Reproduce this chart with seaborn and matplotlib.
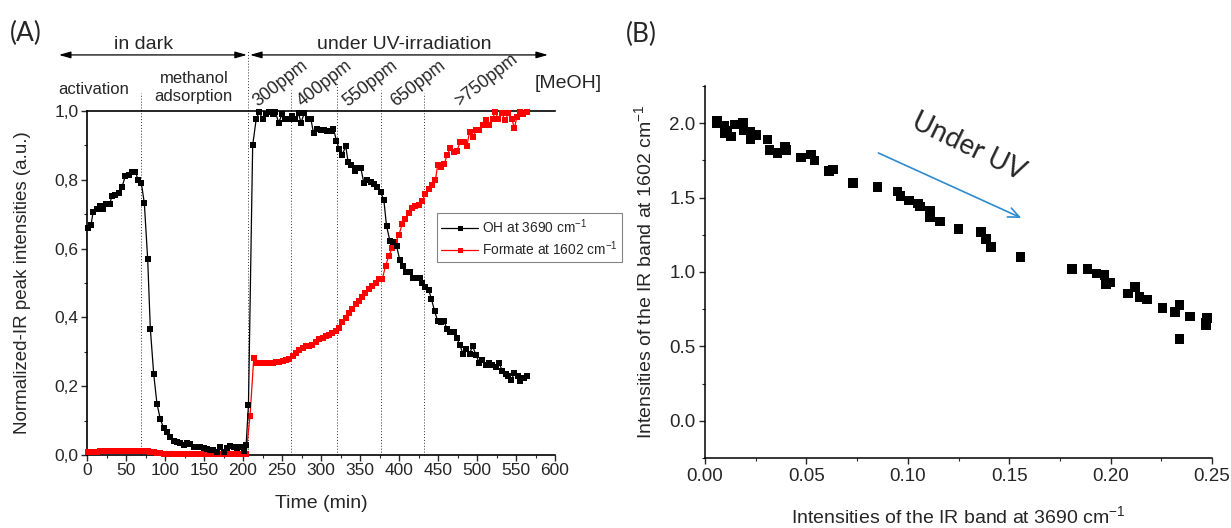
import numpy as np
import pandas as pd
import matplotlib
matplotlib.use("Agg")
import matplotlib.pyplot as plt
from matplotlib.ticker import MultipleLocator, FuncFormatter, FormatStrFormatter
from matplotlib.lines import Line2D
import seaborn as sns

# ---------------- data: panel A (time series) ----------------
t_oh = [0.9, 5.1, 7.7, 12.8, 16.2, 20.5, 24.8, 29.0, 32.0, 36.3, 40.6, 45.0, 49.0, 53.4,
        57.7, 62.0, 65.4, 69.7, 73.5, 77.8, 81.2, 85.5, 89.7, 94.0, 98.3, 102.6, 106.8,
        111.0, 115.4, 119.7, 124.0, 128.0, 132.5, 137.0, 141.0, 145.0, 149.6, 153.8, 158.0,
        162.0, 166.7, 171.0, 175.0, 179.5, 183.8, 188.0, 192.3, 196.6, 200.8, 204.0, 207.0,
        212.4, 217.0, 221.0, 225.0, 229.4, 233.8, 238.0, 241.5, 245.7, 250.0, 254.0, 258.5,
        262.8, 267.0, 271.3, 274.3, 278.5, 282.8, 287.0, 290.4, 295.5, 299.8, 304.0, 308.3,
        312.6, 316.0, 319.8, 323.2, 327.4, 331.7, 334.7, 339.0, 343.2, 346.6, 351.0, 355.0,
        359.4, 363.6, 367.9, 371.3, 376.4, 380.6, 384.0, 388.3, 392.5, 396.8, 401.0, 405.3,
        409.6, 413.8, 418.0, 422.3, 426.6, 429.6, 433.8, 438.0, 441.5, 445.7, 449.6, 453.8,
        458.0, 461.5, 465.7, 470.0, 474.3, 477.7, 482.0, 486.0, 490.5, 494.3, 498.5, 502.8,
        507.0, 511.3, 515.5, 519.8, 524.0, 528.3, 532.6, 536.8, 540.0, 543.6, 547.9, 552.0,
        555.5, 559.8, 563.6]
oh = [0.661, 0.668, 0.705, 0.715, 0.723, 0.715, 0.730, 0.730, 0.752, 0.757, 0.762, 0.780,
      0.810, 0.814, 0.824, 0.824, 0.800, 0.790, 0.732, 0.569, 0.367, 0.236, 0.149, 0.104,
      0.078, 0.066, 0.052, 0.042, 0.039, 0.034, 0.029, 0.034, 0.032, 0.024, 0.024, 0.022,
      0.019, 0.017, 0.015, 0.015, 0.010, 0.024, 0.010, 0.019, 0.026, 0.024, 0.019, 0.024,
      0.013, 0.029, 0.146, 0.900, 0.978, 0.997, 0.976, 0.990, 0.997, 0.990, 0.997, 0.966,
      0.990, 0.977, 0.977, 0.985, 0.976, 0.993, 0.966, 0.993, 0.977, 0.977, 0.936, 0.948,
      0.944, 0.944, 0.941, 0.941, 0.948, 0.914, 0.890, 0.873, 0.898, 0.853, 0.843, 0.827,
      0.835, 0.835, 0.790, 0.800, 0.793, 0.788, 0.778, 0.764, 0.741, 0.666, 0.623, 0.620,
      0.608, 0.567, 0.550, 0.532, 0.532, 0.515, 0.515, 0.515, 0.500, 0.489, 0.481, 0.454,
      0.418, 0.389, 0.386, 0.389, 0.365, 0.358, 0.358, 0.340, 0.321, 0.295, 0.309, 0.295,
      0.316, 0.292, 0.268, 0.276, 0.261, 0.268, 0.261, 0.256, 0.268, 0.243, 0.236, 0.229,
      0.217, 0.238, 0.231, 0.214, 0.224, 0.231]

t_formate = [0.9, 5.1, 7.7, 12.8, 16.2, 20.5, 24.8, 29.0, 32.0, 36.3, 40.6, 45.0, 49.0,
             53.4, 57.7, 62.0, 65.4, 69.7, 73.5, 77.8, 81.2, 85.5, 89.7, 94.0, 98.3, 102.6,
             106.8, 111.0, 115.4, 119.7, 124.0, 128.0, 132.5, 137.0, 141.0, 145.0, 149.6,
             153.8, 158.0, 162.0, 166.7, 171.0, 175.0, 179.5, 183.8, 188.0, 192.3, 196.6,
             200.8, 204.0, 209.0, 213.8, 216.8, 221.0, 225.3, 229.6, 233.8, 238.0, 242.3,
             246.6, 250.9, 255.0, 259.4, 263.6, 268.0, 272.0, 276.4, 280.6, 285.0, 289.0,
             293.4, 297.7, 302.0, 306.0, 310.4, 314.7, 319.0, 323.0, 327.4, 331.7, 336.0,
             340.0, 344.5, 348.7, 353.0, 357.0, 361.5, 365.7, 370.0, 374.3, 378.5, 382.8,
             387.0, 391.3, 395.5, 399.8, 404.0, 408.3, 412.5, 416.8, 421.0, 425.3, 429.6,
             433.8, 438.0, 442.3, 446.6, 449.6, 453.8, 458.0, 461.5, 465.7, 470.0, 474.3,
             478.5, 482.8, 487.0, 490.4, 494.7, 499.0, 503.0, 507.6, 511.9, 516.0, 520.2,
             523.2, 527.5, 531.7, 536.0, 540.2, 544.5, 548.0, 551.0, 555.3, 559.6, 563.8]
formate = [0.010, 0.010, 0.010, 0.010, 0.011, 0.011, 0.011, 0.011, 0.011, 0.011, 0.012,
           0.012, 0.012, 0.012, 0.012, 0.013, 0.013, 0.013, 0.013, 0.012, 0.010, 0.008,
           0.006, 0.005, 0.004, 0.004, 0.004, 0.004, 0.004, 0.003, 0.003, 0.003, 0.003,
           0.003, 0.003, 0.003, 0.003, 0.003, 0.003, 0.003, 0.003, 0.003, 0.003, 0.003,
           0.003, 0.003, 0.003, 0.003, 0.003, 0.003, 0.113, 0.282, 0.267, 0.266, 0.266,
           0.266, 0.266, 0.267, 0.269, 0.270, 0.272, 0.275, 0.279, 0.289, 0.297, 0.304,
           0.311, 0.316, 0.316, 0.321, 0.328, 0.336, 0.340, 0.345, 0.350, 0.355, 0.360,
           0.370, 0.386, 0.399, 0.413, 0.425, 0.438, 0.447, 0.460, 0.472, 0.482, 0.492,
           0.500, 0.511, 0.511, 0.550, 0.579, 0.603, 0.618, 0.639, 0.671, 0.686, 0.703,
           0.717, 0.723, 0.727, 0.739, 0.759, 0.773, 0.785, 0.798, 0.843, 0.836, 0.846,
           0.871, 0.892, 0.880, 0.885, 0.910, 0.910, 0.898, 0.939, 0.924, 0.944, 0.944,
           0.958, 0.973, 0.960, 0.978, 0.997, 0.978, 0.995, 0.973, 0.993, 0.978, 0.950,
           0.982, 0.997, 0.990, 0.997]

# stage boundaries (min) and MeOH concentration labels
stage_times = [69, 206, 261, 321, 377, 432]
stage_tops = [1.052, 1.177, 1.06, 1.084, 1.06, 1.052]
ppm_labels = ["300ppm", "400ppm", "550ppm", "650ppm", ">750ppm"]
ppm_x = [219, 276, 335, 396, 478]

# ---------------- data: panel B (correlation) ----------------
ir_3690 = [0.0058, 0.0060, 0.0096, 0.0096, 0.0129, 0.0110, 0.0148, 0.0187, 0.0190, 0.0225,
           0.0225, 0.0250, 0.0308, 0.0318, 0.0357, 0.0393, 0.0400, 0.0472, 0.0524, 0.0540,
           0.0610, 0.0630, 0.0730, 0.0850, 0.0950, 0.0964, 0.1006, 0.1050, 0.1060, 0.1110,
           0.1110, 0.1160, 0.1250, 0.1360, 0.1386, 0.1410, 0.1555, 0.1810, 0.1887, 0.1930,
           0.1970, 0.1976, 0.2000, 0.2086, 0.2120, 0.2143, 0.2180, 0.2255, 0.2317, 0.2340,
           0.2340, 0.2390, 0.2470, 0.2475, 0.2470]
ir_1602 = [2.00, 2.015, 1.98, 1.93, 1.91, 1.95, 1.99, 2.00, 1.95, 1.94,
           1.89, 1.92, 1.89, 1.82, 1.80, 1.84, 1.82, 1.77, 1.79, 1.75,
           1.68, 1.69, 1.60, 1.57, 1.54, 1.51, 1.48, 1.46, 1.44, 1.41,
           1.37, 1.34, 1.29, 1.27, 1.22, 1.17, 1.10, 1.02, 1.02, 0.99,
           0.98, 0.92, 0.93, 0.856, 0.90, 0.83, 0.815, 0.76, 0.73, 0.78,
           0.55, 0.70, 0.64, 0.69, 0.66]

# ---------------- styling ----------------
sns.set_style("white")
plt.rcParams["font.family"] = ["Liberation Sans", "DejaVu Sans"]
plt.rcParams["mathtext.fontset"] = "custom"
plt.rcParams["mathtext.rm"] = "Liberation Sans"
plt.rcParams["mathtext.it"] = "Liberation Sans:italic"

fig = plt.figure(figsize=(12.31, 5.28), dpi=100)

# ================= panel A =================
axA = fig.add_axes([87 / 1231, 1 - 455 / 528, 468 / 1231, 344 / 528])
df_oh = pd.DataFrame({"t": t_oh, "v": oh})
df_fo = pd.DataFrame({"t": t_formate, "v": formate})

sns.lineplot(data=df_fo, x="t", y="v", ax=axA, color="red", marker="s", markersize=4.2,
             markeredgewidth=0, linewidth=0.9, sort=False, estimator=None, legend=False,
             zorder=3)
sns.lineplot(data=df_oh, x="t", y="v", ax=axA, color="black", marker="s", markersize=3.9,
             markeredgewidth=0, linewidth=0.9, sort=False, estimator=None, legend=False,
             zorder=4)
for ln in axA.get_lines():
    ln.set_clip_on(False)

axA.set_xlim(0, 600)
axA.set_ylim(0, 1.0)
axA.xaxis.set_major_locator(MultipleLocator(50))
axA.xaxis.set_minor_locator(MultipleLocator(25))
axA.yaxis.set_major_locator(MultipleLocator(0.2))
axA.yaxis.set_minor_locator(MultipleLocator(0.1))
axA.yaxis.set_major_formatter(FuncFormatter(lambda v, p: f"{v:.1f}".replace(".", ",")))
axA.tick_params(axis="both", which="major", direction="out", length=4, width=1,
                labelsize=12.5, bottom=True, left=True, top=False, right=False, pad=2)
axA.tick_params(axis="both", which="minor", direction="out", length=2.5, width=0.8,
                bottom=True, left=True, top=False, right=False)
for side in ["left", "bottom", "top"]:
    axA.spines[side].set_visible(True)
    axA.spines[side].set_color("black")
    axA.spines[side].set_linewidth(1.2)
axA.spines["right"].set_visible(False)
axA.set_xlabel("Time (min)", fontsize=14, labelpad=12)
axA.set_ylabel("Normalized-IR peak intensities (a.u.)", fontsize=13.5, labelpad=17)

# stage boundaries
for tx, top in zip(stage_times, stage_tops):
    axA.plot([tx, tx], [0, top], color="#333333", linestyle=(0, (1, 2)), linewidth=0.7,
             clip_on=False, zorder=1)

# top annotations
arrow_y = 1.163
arrow_style = "<|-|>,head_length=0.7,head_width=0.2"
axA.annotate("", xy=(-36, arrow_y), xytext=(205, arrow_y), xycoords="data",
             arrowprops=dict(arrowstyle=arrow_style, color="black", lw=0.9,
                             shrinkA=0, shrinkB=0),
             annotation_clip=False)
axA.annotate("", xy=(209, arrow_y), xytext=(591, arrow_y), xycoords="data",
             arrowprops=dict(arrowstyle=arrow_style, color="black", lw=0.9,
                             shrinkA=0, shrinkB=0),
             annotation_clip=False)
axA.text(72, 1.17, "in dark", ha="center", va="bottom", fontsize=14, clip_on=False)
axA.text(407, 1.17, "under UV-irradiation", ha="center", va="bottom", fontsize=14,
         clip_on=False)
axA.text(8, 1.062, "activation", ha="center", va="center", fontsize=12, clip_on=False)
axA.text(137, 1.068, "methanol\nadsorption", ha="center", va="center", fontsize=12,
         linespacing=1.2, clip_on=False)
axA.text(617, 1.081, "[MeOH]", ha="center", va="center", fontsize=14, clip_on=False)
for lab, px in zip(ppm_labels, ppm_x):
    axA.text(px, 1.013, lab, ha="left", va="baseline", rotation=38, rotation_mode="anchor",
             fontsize=12.8, clip_on=False)

# legend
h_oh = Line2D([], [], color="black", marker="s", markersize=3.6, markeredgewidth=0, lw=0.9)
h_fo = Line2D([], [], color="red", marker="s", markersize=3.6, markeredgewidth=0, lw=0.9)
leg = axA.legend([h_oh, h_fo], ["OH at 3690 cm$^{-1}$", "Formate at 1602 cm$^{-1}$"],
                 loc="lower left", bbox_to_anchor=(437 / 1231, 1 - 262 / 528),
                 bbox_transform=fig.transFigure, borderaxespad=0, fontsize=9.9,
                 frameon=True, fancybox=False, edgecolor="#666666", numpoints=1,
                 handlelength=2.7, handletextpad=0.3, borderpad=0.3, labelspacing=0.25)
leg.get_frame().set_linewidth(0.8)

fig.text(26 / 1231, 1 - 33 / 528, "(A)", fontsize=19, ha="center", va="center",
         family=["Lato", "DejaVu Sans"])

# ================= panel B =================
axB = fig.add_axes([705 / 1231, 1 - 458 / 528, 507 / 1231, 372 / 528])
df_b = pd.DataFrame({"x": ir_3690, "y": ir_1602})
sns.scatterplot(data=df_b, x="x", y="y", ax=axB, marker="s", s=48, color="black",
                edgecolor="none", linewidth=0, clip_on=False, zorder=3, legend=False)

axB.set_xlim(0, 0.25)
axB.set_ylim(-0.25, 2.25)
axB.xaxis.set_major_locator(MultipleLocator(0.05))
axB.xaxis.set_minor_locator(MultipleLocator(0.025))
axB.yaxis.set_major_locator(MultipleLocator(0.5))
axB.yaxis.set_minor_locator(MultipleLocator(0.25))
axB.xaxis.set_major_formatter(FormatStrFormatter("%.2f"))
axB.yaxis.set_major_formatter(FormatStrFormatter("%.1f"))
axB.tick_params(axis="both", which="major", direction="out", length=4, width=1,
                labelsize=13.5, bottom=True, left=True, top=False, right=False, pad=3)
axB.tick_params(axis="both", which="minor", direction="out", length=2.5, width=0.8,
                bottom=True, left=True, top=False, right=False)
for side in ["left", "bottom"]:
    axB.spines[side].set_color("black")
    axB.spines[side].set_linewidth(1.1)
for side in ["top", "right"]:
    axB.spines[side].set_visible(False)
axB.set_xlabel("Intensities of the IR band at 3690 cm$^{-1}$", fontsize=14, labelpad=15)
axB.set_ylabel("Intensities of the IR band at 1602 cm$^{-1}$", fontsize=14, labelpad=10)

axB.annotate("", xy=(0.156, 1.363), xytext=(0.0855, 1.80),
             arrowprops=dict(arrowstyle="->,head_length=0.8,head_width=0.35",
                             color="#2e8bcf", lw=1.2, shrinkA=0, shrinkB=0))
axB.text(0.130, 1.84, "Under UV", rotation=-26, ha="center", va="center", fontsize=20,
         family=["Lato", "DejaVu Sans"], rotation_mode="anchor")

fig.text(641 / 1231, 1 - 34 / 528, "(B)", fontsize=19, ha="center", va="center",
         family=["Lato", "DejaVu Sans"])

fig.savefig("out.png", dpi=100)
